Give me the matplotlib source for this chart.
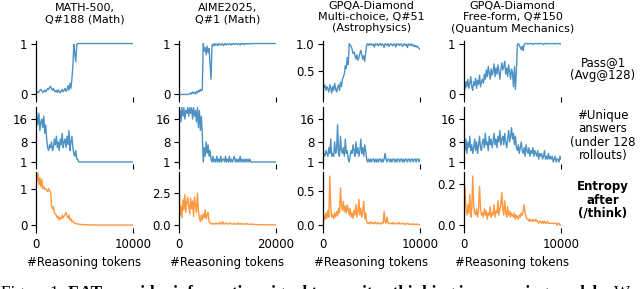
import numpy as np
import matplotlib
matplotlib.use('Agg')
import matplotlib.pyplot as plt

# ---- data ----
titles = [
    "MATH-500,\nQ#188 (Math)",
    "AIME2025,\nQ#1 (Math)",
    "GPQA-Diamond\nMulti-choice, Q#51\n(Astrophysics)",
    "GPQA-Diamond\nFree-form, Q#150\n(Quantum Mechanics)",
]
row_labels = ["Pass@1\n(Avg@128)", "#Unique\nanswers\n(under 128\nrollouts)", "Entropy\nafter\n(/think)"]
xlabel = "#Reasoning tokens"
caption_a = "Figure 1:"
caption_b = "EAT provides information signal to monitor thinking in reasoning models."
caption_c = "W"

tokens_10k = np.arange(0, 10001, 100)
tokens_20k = np.arange(0, 20001, 200)
x_max = [10000, 20000, 10000, 10000]

# MATH-500 Q#188
math_pass = [0.04, 0.06, 0.03, 0.05, 0.08, 0.10, 0.07, 0.04, 0.06, 0.09,
             0.05, 0.08, 0.12, 0.10, 0.14, 0.16, 0.11, 0.08, 0.12, 0.07,
             0.05, 0.08, 0.04, 0.09, 0.06, 0.03, 0.07, 0.10, 0.05, 0.08,
             0.12, 0.06, 0.10, 0.17, 0.08, 0.22, 0.12, 0.30, 0.55, 0.98,
             0.80, 0.64, 0.98, 1.0, 1.0, 1.0, 1.0, 1.0, 1.0, 1.0] + [1.0] * 51
math_unique = [19, 17, 14, 18, 12, 15, 16, 13, 17, 11,
               14, 9, 6, 5, 7, 6, 8, 5, 6, 9,
               7, 10, 6, 8, 5, 9, 7, 11, 6, 8,
               9, 6, 10, 7, 12, 5, 8, 10, 6, 4,
               3, 5, 2, 2, 1, 1, 1, 1, 1, 1] + [1] * 51
math_entropy = [1.35, 1.20, 1.42, 1.10, 1.30, 1.05, 1.25, 1.00, 1.05, 0.98,
                1.00, 0.95, 0.92, 1.00, 0.93, 0.90, 0.55, 0.45, 0.50, 0.35,
                0.30, 0.28, 0.20, 0.25, 0.15, 0.22, 0.18, 0.28, 0.20, 0.25,
                0.30, 0.35, 0.25, 0.20, 0.28, 0.15, 0.18, 0.10, 0.12, 0.08,
                0.06, 0.05, 0.04, 0.05, 0.03, 0.03, 0.02, 0.03, 0.02, 0.02,
                0.02, 0.02, 0.01, 0.02, 0.02, 0.01, 0.02, 0.01, 0.01, 0.02] + [0.01] * 41

# AIME2025 Q#1
aime_pass = [0, 0, 0, 0, 0, 0, 0, 0, 0, 0,
             0, 0.01, 0.03, 0.01, 0.05, 0.02, 0.04, 0.01, 0.06, 0.03,
             0.08, 0.05, 0.10, 0.07, 0.09, 1.0, 0.85, 0.92, 0.78, 0.95,
             0.82, 0.90, 0.60, 0.30, 0.97, 0.99, 0.95, 1.0, 0.97, 0.99,
             0.96, 1.0, 0.98, 0.97, 1.0, 0.98, 0.96, 1.0, 0.99, 0.97,
             1.0, 0.98, 0.99, 1.0, 0.97, 0.99, 1.0, 0.98, 1.0, 0.99,
             0.98, 1.0, 0.99, 0.97, 1.0, 0.99, 1.0, 0.98, 1.0, 0.99,
             1.0, 0.99, 1.0, 1.0, 0.99, 1.0, 1.0, 1.0, 1.0, 1.0] + [1.0] * 21
aime_unique = [16, 19, 15, 20, 17, 20, 16, 19, 18, 20,
               17, 20, 18, 20, 16, 20, 17, 19, 15, 20,
               13, 19, 12, 17, 11, 1, 6, 3, 8, 4,
               7, 3, 5, 2, 1, 3, 1, 2, 1, 3,
               1, 2, 1, 3, 1, 2, 2, 1, 3, 1,
               2, 1, 3, 1, 2, 1, 2, 3, 1, 2,
               1, 2, 1, 3, 1, 2, 1, 2, 1, 2,
               1, 2, 1, 2, 1, 1, 1, 1, 1, 1] + [1] * 21
aime_entropy = [4.0, 0.8, 1.5, 0.6, 2.0, 1.2, 2.4, 1.0, 1.8, 2.2,
                1.5, 0.9, 2.1, 1.3, 1.9, 0.7, 2.2, 1.6, 1.0, 2.5,
                1.2, 0.6, 0.3, 0.8, 0.4, 0.9, 0.6, 1.2, 0.5, 0.8,
                1.0, 0.3, 0.2, 0.15, 0.1, 0.15, 0.12, 0.1, 0.2, 0.12,
                0.15, 0.1, 0.25, 0.12, 0.1, 0.3, 0.12, 0.15, 0.1, 0.2,
                0.12, 0.1, 0.15, 0.2, 0.1, 0.12, 0.1, 0.15, 0.1, 0.12,
                0.1, 0.2, 0.1, 0.12, 0.1, 0.15, 0.1, 0.1, 0.12, 0.1,
                0.15, 0.1, 0.08, 0.1, 0.08, 0.12, 0.08, 0.07, 0.08, 0.07,
                0.06, 0.07, 0.06, 0.05, 0.06, 0.05, 0.06, 0.05, 0.05, 0.06,
                0.05, 0.05, 0.06, 0.05, 0.04, 0.05, 0.05, 0.04, 0.05, 0.04, 0.04]

# GPQA-Diamond multi-choice Q#51
gpqa_mc_pass = [0.28, 0.20, 0.25, 0.15, 0.22, 0.18, 0.12, 0.25, 0.20, 0.10,
                0.22, 0.15, 0.28, 0.18, 0.12, 0.20, 0.25, 0.15, 0.30, 0.22,
                0.35, 0.40, 0.45, 0.60, 0.55, 0.75, 0.62, 1.00, 0.98, 0.95,
                0.90, 0.82, 0.85, 0.78, 0.72, 0.80, 0.70, 0.75, 0.82, 0.88,
                0.80, 0.72, 0.78, 0.68, 0.85, 0.98, 1.00, 0.97, 1.00, 0.98,
                1.00, 0.97, 0.99, 0.94, 1.00, 0.98, 1.00, 0.96, 0.99, 1.00,
                0.97, 1.00, 0.98, 0.93, 1.00, 0.99, 0.97, 1.00, 0.95, 0.99,
                1.00, 0.98, 0.96, 1.00, 0.99, 0.94, 1.00, 0.98, 1.00, 0.97,
                0.99, 1.00, 0.95, 0.98, 1.00, 0.97, 0.99, 0.93, 1.00, 0.98,
                0.97, 1.00, 0.96, 0.98, 0.95, 0.97, 0.94, 0.96, 0.93, 0.92, 0.90]
gpqa_mc_unique = [3, 4, 3, 5, 4, 3, 6, 4, 9, 3,
                  4, 3, 8, 4, 5, 14, 4, 3, 10, 5,
                  4, 6, 3, 9, 4, 5, 2, 1, 3, 5,
                  4, 7, 5, 3, 8, 4, 6, 3, 5, 9,
                  4, 6, 3, 7, 5, 2, 1, 2, 1, 2,
                  1, 2, 2, 1, 2, 1, 2, 1, 2, 2,
                  1, 2, 1, 2, 4, 2, 1, 2, 2, 1,
                  2, 1, 2, 2, 1, 2, 1, 2, 2, 1,
                  2, 2, 1, 2, 1, 2, 2, 1, 2, 2,
                  1, 2, 2, 1, 2, 2, 1, 2, 2, 1, 2]
gpqa_mc_entropy = [0.12, 0.15, 0.08, 0.18, 0.10, 0.22, 0.12, 0.72, 0.25, 0.12,
                   0.15, 0.10, 0.18, 0.12, 0.20, 0.14, 0.25, 0.18, 0.55, 0.30,
                   0.22, 0.35, 0.20, 0.28, 0.18, 0.30, 0.22, 0.15, 0.25, 0.12,
                   0.18, 0.10, 0.22, 0.15, 0.30, 0.12, 0.20, 0.38, 0.15, 0.25,
                   0.12, 0.20, 0.35, 0.10, 0.18, 0.05, 0.03, 0.04, 0.02, 0.05,
                   0.03, 0.04, 0.02, 0.03, 0.05, 0.02, 0.03, 0.04, 0.02, 0.03,
                   0.02, 0.04, 0.03, 0.20, 0.05, 0.03, 0.12, 0.04, 0.02, 0.03,
                   0.03, 0.02, 0.04, 0.02, 0.03, 0.02, 0.03, 0.02, 0.04, 0.02,
                   0.02, 0.03, 0.02, 0.02, 0.03, 0.01, 0.02, 0.03, 0.02, 0.01,
                   0.02, 0.01, 0.02, 0.01, 0.02, 0.01, 0.01, 0.02, 0.01, 0.01, 0.01]

# GPQA-Diamond free-form Q#150
gpqa_ff_pass = [0.18, 0.10, 0.25, 0.15, 0.30, 0.12, 0.22, 0.35, 0.15, 0.08,
                0.25, 0.18, 0.32, 0.12, 0.28, 0.20, 0.38, 0.15, 0.25, 0.30,
                0.22, 0.40, 0.30, 0.48, 0.35, 0.55, 0.42, 0.30, 0.50, 0.38,
                0.45, 0.60, 0.35, 0.52, 0.40, 0.58, 0.45, 0.30, 0.50, 0.62,
                0.48, 0.55, 0.65, 0.40, 0.52, 0.35, 0.58, 0.45, 0.30, 0.50,
                0.42, 0.15, 0.55, 0.10, 0.45, 0.98, 1.00, 0.97, 0.92, 0.88,
                0.95, 0.86, 0.98, 1.00, 1.00, 1.00, 0.99, 1.00, 1.00, 1.00,
                1.00, 0.98, 1.00, 1.00, 1.00, 1.00, 0.99, 1.00, 1.00, 1.00,
                1.00, 1.00, 0.98, 1.00, 1.00, 1.00, 1.00, 0.99, 1.00, 1.00,
                1.00, 1.00, 1.00, 0.99, 1.00, 1.00, 1.00, 1.00, 1.00, 0.99, 1.00]
gpqa_ff_unique = [7, 5, 9, 4, 8, 6, 10, 5, 7, 4,
                  6, 9, 5, 8, 4, 7, 10, 6, 5, 8,
                  9, 6, 11, 7, 8, 5, 10, 7, 9, 6,
                  8, 11, 7, 9, 6, 10, 8, 12, 7, 9,
                  10, 7, 11, 8, 6, 9, 12, 8, 10, 13,
                  9, 11, 7, 10, 6, 5, 7, 4, 6, 8,
                  5, 4, 6, 3, 7, 5, 4, 6, 3, 5,
                  4, 6, 3, 5, 4, 3, 5, 2, 4, 3,
                  4, 2, 3, 5, 2, 3, 2, 4, 2, 3,
                  2, 3, 1, 2, 3, 1, 2, 2, 1, 3, 2]
gpqa_ff_entropy = [0.12, 0.19, 0.08, 0.05, 0.10, 0.06, 0.15, 0.04, 0.08, 0.24,
                   0.10, 0.06, 0.05, 0.08, 0.04, 0.07, 0.19, 0.09, 0.05, 0.06,
                   0.04, 0.08, 0.05, 0.07, 0.03, 0.06, 0.05, 0.09, 0.04, 0.06,
                   0.05, 0.10, 0.04, 0.07, 0.06, 0.12, 0.05, 0.08, 0.10, 0.16,
                   0.08, 0.05, 0.12, 0.06, 0.04, 0.09, 0.05, 0.07, 0.04, 0.06,
                   0.05, 0.04, 0.06, 0.03, 0.05, 0.04, 0.03, 0.05, 0.04, 0.06,
                   0.05, 0.07, 0.10, 0.06, 0.04, 0.03, 0.03, 0.02, 0.03, 0.02,
                   0.02, 0.03, 0.02, 0.02, 0.03, 0.02, 0.02, 0.01, 0.02, 0.02,
                   0.01, 0.02, 0.01, 0.02, 0.01, 0.01, 0.02, 0.01, 0.01, 0.01,
                   0.01, 0.01, 0.01, 0.01, 0.01, 0.01, 0.00, 0.01, 0.01, 0.00, 0.00]

# y ticks per column, per row
yticks = [
    [[0, 1], [1, 8, 16], [0, 1]],
    [[0, 1], [1, 8, 16], [0.0, 2.5]],
    [[0.5, 1.0], [1, 8, 16], [0.0, 0.5]],
    [[0, 1], [1, 8, 16], [0.0, 0.2]],
]
ytick_labels = [
    [["0", "1"], ["1", "8", "16"], ["0", "1"]],
    [["0", "1"], ["1", "8", "16"], ["0.0", "2.5"]],
    [["0.5", "1.0"], ["1", "8", "16"], ["0.0", "0.5"]],
    [["0", "1"], ["1", "8", "16"], ["0.0", "0.2"]],
]

columns = [
    (tokens_10k, [math_pass, math_unique, math_entropy]),
    (tokens_20k, [aime_pass, aime_unique, aime_entropy]),
    (tokens_10k, [gpqa_mc_pass, gpqa_mc_unique, gpqa_mc_entropy]),
    (tokens_10k, [gpqa_ff_pass, gpqa_ff_unique, gpqa_ff_entropy]),
]

# ---- layout (pixels) ----
W, H = 640, 289
col_left = [36, 179, 323, 464]
ax_w = 97
row_top = [41, 107, 172]
ax_h = [56, 57, 56]
ylims = [
    [(-0.05, 1.05), (0.3, 20.2), (-0.07, 1.45)],
    [(-0.05, 1.05), (0.3, 20.2), (-0.2, 4.15)],
    [(0.03, 1.05), (0.3, 20.2), (-0.04, 0.78)],
    [(-0.05, 1.05), (0.3, 20.2), (-0.013, 0.26)],
]
title_top = [3.5, 3.5, 1.5, 1.5]
FS = 8.5
TITLE_FS = 8
BLUE = '#1f77b4'
ORANGE = '#ff7f0e'

fig = plt.figure(figsize=(W / 100, H / 100), dpi=100)

for c, (x, series) in enumerate(columns):
    for r in range(3):
        ax = fig.add_axes([col_left[c] / W, 1 - (row_top[r] + ax_h[r]) / H,
                           ax_w / W, ax_h[r] / H])
        color = ORANGE if r == 2 else BLUE
        ax.plot(x, series[r], color=color, lw=1.0, alpha=0.8)
        ax.set_xlim(0, x_max[c])
        ax.set_ylim(*ylims[c][r])
        ax.set_xticks([0, x_max[c]])
        ax.set_yticks(yticks[c][r])
        ax.set_yticklabels(ytick_labels[c][r])
        if r == 2:
            ax.set_xticklabels(["0", str(x_max[c])])
            ax.set_xlabel(xlabel, fontsize=FS, labelpad=4)
        else:
            ax.set_xticklabels([])
        for s in ['top', 'right', 'bottom']:
            ax.spines[s].set_visible(False)
        ax.spines['left'].set_linewidth(0.9)
        ax.tick_params(labelsize=FS, length=3.5, width=0.8, pad=2.5)
        ax.tick_params(axis='x', pad=3.5)
    cx = (col_left[c] + ax_w / 2) / W
    fig.text(cx, 1 - title_top[c] / H, titles[c], ha='center', va='top',
             fontsize=TITLE_FS, linespacing=1.12)

# row labels on the right
for r in range(3):
    cy = 1 - (row_top[r] + ax_h[r] / 2) / H
    fig.text(603 / W, cy, row_labels[r], ha='center', va='center', fontsize=FS,
             fontweight='bold' if r == 2 else 'normal', linespacing=1.05)

# caption, cut off at the bottom edge like the reference
cap_y = 1 - 297 / H
t1 = fig.text(1 / W, cap_y, caption_a, fontsize=12.3, family='Liberation Serif', va='baseline')
fig.canvas.draw()
x1 = t1.get_window_extent().x1 + 5
t2 = fig.text(x1 / W, cap_y, caption_b, fontsize=12.3, family='Liberation Serif',
              fontweight='bold', va='baseline')
fig.canvas.draw()
x2 = t2.get_window_extent().x1 + 5
fig.text(x2 / W, cap_y, caption_c, fontsize=12.3, family='Liberation Serif', va='baseline')

fig.savefig('out.png', dpi=100)
